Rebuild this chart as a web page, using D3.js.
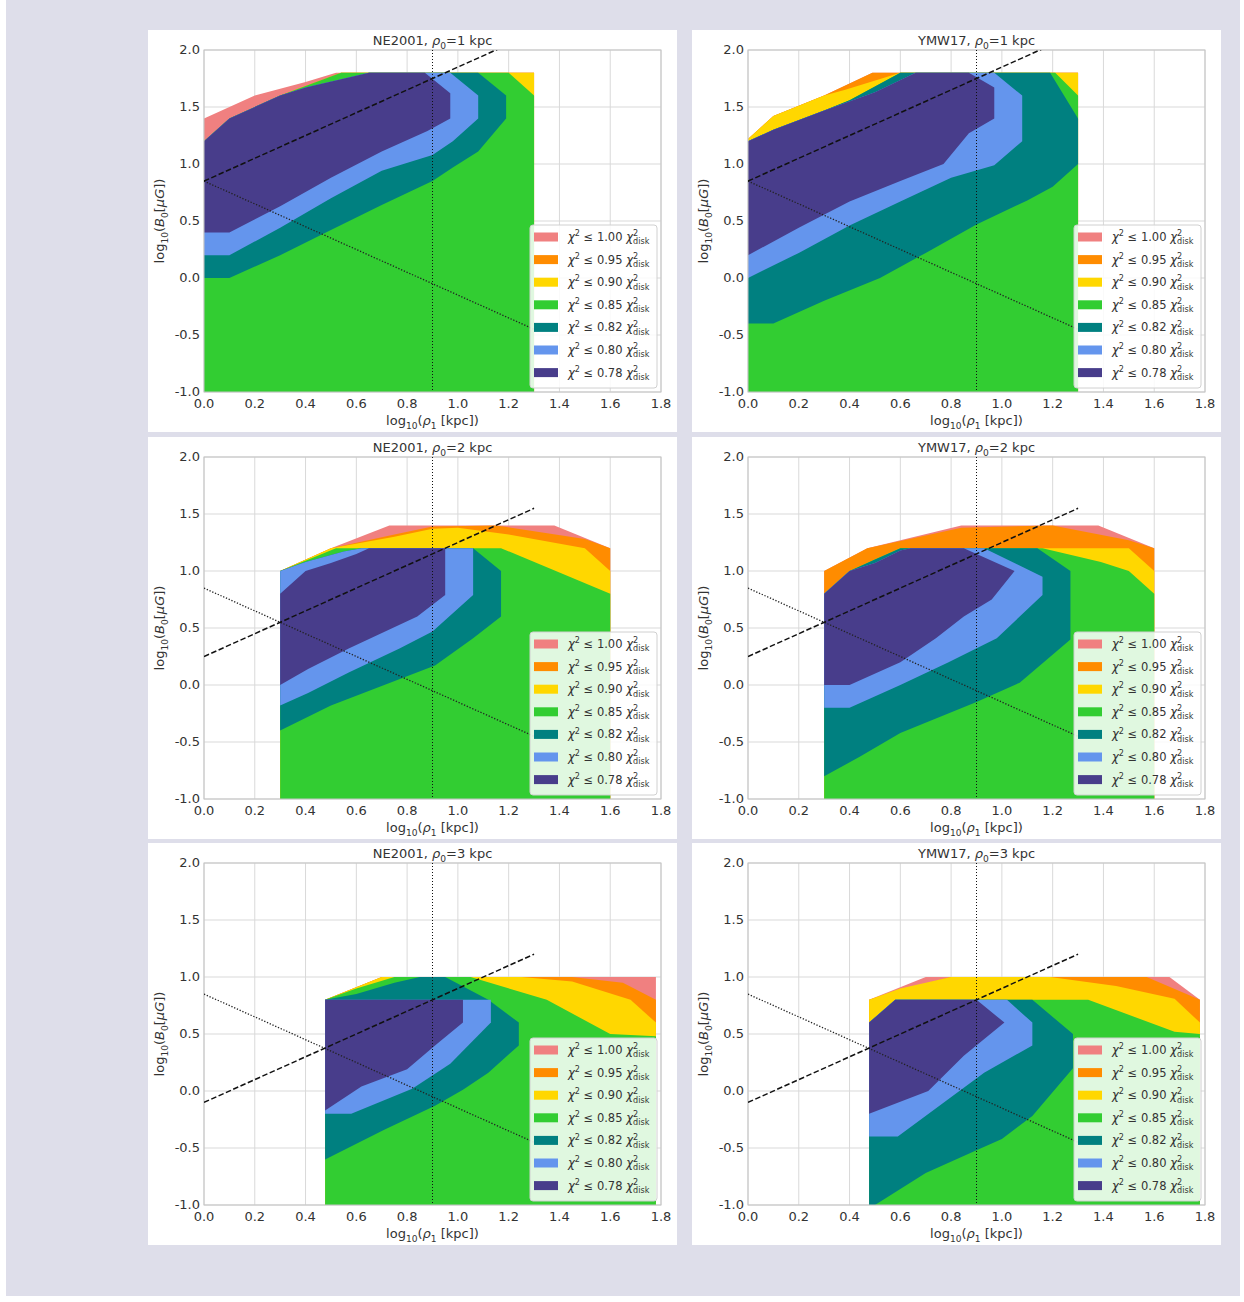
<!DOCTYPE html>
<meta charset="utf-8">
<script src="https://d3js.org/d3.v7.min.js"></script>
<style>
  body { margin: 0; background: #fff; }
  text { font-family: "DejaVu Sans", sans-serif; fill: #333; }
</style>
<svg id="chart" width="1244" height="1302"></svg>
<script>
// contour levels (chi^2 <= level * chi^2_disk) and their fill colours
var levels = ["1.00", "0.95", "0.90", "0.85", "0.82", "0.80", "0.78"];
var levelColors = ["#f08080", "#ff8c00", "#ffd700", "#32cd32", "#008080", "#6495ed", "#483d8b"];

var xTicks = [0, 0.2, 0.4, 0.6, 0.8, 1.0, 1.2, 1.4, 1.6, 1.8];
var yTicks = [-1, -0.5, 0, 0.5, 1.0, 1.5, 2.0];

var models = ["NE2001", "YMW17"];
var rho0 = [1, 2, 3];

// reference lines
var refX = 0.9;
var dottedLine = [[0, 0.85], [1.3, -0.45]];
var dashedLines = [
  [[0, 0.85], [1.3, 2.15]],
  [[0, 0.25], [1.3, 1.55]],
  [[0, -0.1], [1.3, 1.2]]
];

// region polygons [log10 rho1, log10 B0], one per level, outermost first
var ne1 = [
  [[0,-1],[0,1.4],[0.1,1.5],[0.2,1.6],[0.4,1.72],[0.52,1.8],[1.3,1.8],[1.3,-1]],
  [[0,-1],[0,1.2],[0.1,1.4],[0.3,1.6],[0.54,1.8],[1.3,1.8],[1.3,-1]],
  [[0,-1],[0,1.2],[0.1,1.4],[0.3,1.6],[0.54,1.8],[1.3,1.8],[1.3,-1]],
  [[0,-1],[0,1.2],[0.1,1.4],[0.3,1.6],[0.54,1.8],[1.2,1.8],[1.3,1.6],[1.3,-1]],
  [[0,0],[0,1.2],[0.1,1.4],[0.3,1.6],[0.4,1.67],[0.65,1.8],[1.08,1.8],[1.19,1.6],[1.19,1.4],[1.08,1.11],[0.98,0.97],[0.9,0.85],[0.7,0.64],[0.5,0.42],[0.3,0.2],[0.1,0]],
  [[0,0.2],[0,1.2],[0.1,1.4],[0.3,1.6],[0.4,1.67],[0.65,1.8],[0.97,1.8],[1.08,1.6],[1.08,1.4],[0.98,1.2],[0.9,1.08],[0.7,0.94],[0.5,0.7],[0.3,0.44],[0.1,0.2]],
  [[0,0.4],[0,1.2],[0.1,1.4],[0.3,1.6],[0.4,1.67],[0.65,1.8],[0.87,1.8],[0.97,1.62],[0.97,1.4],[0.88,1.29],[0.7,1.11],[0.5,0.88],[0.3,0.63],[0.1,0.4]]
];
var ymw1 = [
  [[0,-1],[0,1.22],[0.1,1.42],[0.3,1.6],[0.49,1.8],[1.3,1.8],[1.3,-1]],
  [[0,-1],[0,1.22],[0.1,1.42],[0.3,1.6],[0.49,1.8],[1.3,1.8],[1.3,-1]],
  [[0,-1],[0,1.22],[0.1,1.42],[0.3,1.6],[0.38,1.65],[0.6,1.8],[1.3,1.8],[1.3,-1]],
  [[0,-1],[0,1.2],[0.1,1.3],[0.3,1.47],[0.4,1.56],[0.6,1.8],[1.21,1.8],[1.3,1.6],[1.3,-1]],
  [[0,-0.4],[0,1.2],[0.1,1.3],[0.3,1.47],[0.4,1.56],[0.6,1.8],[1.19,1.8],[1.3,1.4],[1.3,1.0],[1.2,0.8],[1.1,0.68],[0.9,0.47],[0.7,0.22],[0.52,0],[0.3,-0.2],[0.1,-0.4]],
  [[0,0],[0,1.2],[0.1,1.3],[0.3,1.47],[0.5,1.63],[0.66,1.8],[0.97,1.8],[1.08,1.6],[1.08,1.2],[0.97,0.99],[0.8,0.88],[0.6,0.67],[0.4,0.46],[0.2,0.22]],
  [[0,0.2],[0,1.2],[0.1,1.3],[0.3,1.47],[0.5,1.63],[0.66,1.8],[0.87,1.8],[0.97,1.67],[0.97,1.4],[0.87,1.27],[0.77,1.0],[0.6,0.85],[0.4,0.67],[0.2,0.44]]
];
var ne2 = [
  [[0.3,-1],[0.3,1.0],[0.5,1.2],[0.73,1.4],[1.38,1.4],[1.6,1.2],[1.6,-1]],
  [[0.3,-1],[0.3,1.0],[0.5,1.2],[0.75,1.32],[0.9,1.39],[1.15,1.4],[1.5,1.28],[1.6,1.2],[1.6,-1]],
  [[0.3,-1],[0.3,1.0],[0.5,1.2],[0.75,1.3],[0.9,1.37],[1.0,1.38],[1.2,1.32],[1.5,1.2],[1.6,1.0],[1.6,-1]],
  [[0.3,-1],[0.3,1.0],[0.52,1.2],[1.17,1.2],[1.6,0.8],[1.6,-1]],
  [[0.3,-0.4],[0.3,1.0],[0.4,1.08],[0.55,1.17],[0.62,1.2],[1.06,1.2],[1.17,1.0],[1.17,0.6],[1.06,0.41],[0.91,0.17],[0.71,0],[0.5,-0.18]],
  [[0.3,-0.18],[0.3,1.0],[0.4,1.08],[0.55,1.17],[0.62,1.2],[1.06,1.2],[1.06,0.79],[0.9,0.47],[0.77,0.32],[0.57,0.11],[0.41,-0.07]],
  [[0.3,0],[0.3,0.8],[0.4,1.0],[0.5,1.07],[0.6,1.15],[0.65,1.2],[0.95,1.2],[0.95,0.79],[0.84,0.6],[0.57,0.32],[0.41,0.14]]
];
var ymw2 = [
  [[0.3,-1],[0.3,1.0],[0.47,1.2],[0.84,1.4],[1.38,1.4],[1.6,1.2],[1.6,-1]],
  [[0.3,-1],[0.3,1.0],[0.47,1.2],[0.84,1.38],[1.2,1.4],[1.5,1.27],[1.6,1.2],[1.6,-1]],
  [[0.3,-1],[0.3,0.8],[0.4,1.0],[0.5,1.1],[0.6,1.2],[1.5,1.2],[1.6,1.0],[1.6,-1]],
  [[0.3,-1],[0.3,0.8],[0.4,1.0],[0.5,1.1],[0.6,1.2],[1.16,1.2],[1.39,1.08],[1.5,1.0],[1.6,0.8],[1.6,-1]],
  [[0.3,-0.8],[0.3,0.8],[0.4,1.0],[0.5,1.1],[0.6,1.2],[1.14,1.2],[1.27,1.0],[1.27,0.4],[1.07,0.02],[0.9,-0.15],[0.6,-0.42],[0.44,-0.63]],
  [[0.3,-0.2],[0.3,0.8],[0.4,1.0],[0.5,1.07],[0.6,1.18],[0.64,1.2],[0.93,1.2],[1.16,0.95],[1.16,0.79],[0.98,0.41],[0.79,0.2],[0.6,0.0],[0.4,-0.2]],
  [[0.3,0],[0.3,0.8],[0.4,1.0],[0.5,1.07],[0.6,1.18],[0.64,1.2],[0.85,1.2],[1.05,1.0],[0.96,0.75],[0.85,0.6],[0.74,0.41],[0.6,0.2],[0.4,0]]
];
var ne3 = [
  [[0.477,-1],[0.477,0.8],[0.7,1.0],[1.78,1.0],[1.78,-1]],
  [[0.477,-1],[0.477,0.8],[0.7,1.0],[1.45,1.0],[1.65,0.95],[1.78,0.8],[1.78,-1]],
  [[0.477,-1],[0.477,0.8],[0.7,1.0],[1.25,1.0],[1.45,0.96],[1.68,0.8],[1.78,0.6],[1.78,-1]],
  [[0.477,-1],[0.477,0.8],[0.6,0.9],[0.75,1.0],[1.05,1.0],[1.35,0.8],[1.6,0.5],[1.78,0.48],[1.78,-1]],
  [[0.477,-0.6],[0.477,0.8],[0.6,0.85],[0.75,0.95],[0.85,1.0],[0.95,1.0],[1.12,0.8],[1.24,0.6],[1.24,0.4],[1.12,0.16],[1.02,0.01],[0.91,-0.13],[0.71,-0.34]],
  [[0.477,-0.2],[0.477,0.8],[1.13,0.8],[1.13,0.6],[0.97,0.24],[0.82,0.02],[0.58,-0.2]],
  [[0.477,-0.17],[0.477,0.8],[1.02,0.8],[1.02,0.6],[0.91,0.4],[0.8,0.19],[0.62,0.04]]
];
var ymw3 = [
  [[0.477,-1],[0.477,0.8],[0.7,1.0],[1.66,1.0],[1.78,0.8],[1.78,-1]],
  [[0.477,-1],[0.477,0.8],[0.62,0.9],[0.8,1.0],[1.57,1.0],[1.78,0.8],[1.78,-1]],
  [[0.477,-1],[0.477,0.8],[0.6,0.9],[0.8,1.0],[1.19,1.0],[1.45,0.92],[1.68,0.81],[1.78,0.6],[1.78,-1]],
  [[0.477,-1],[0.477,0.6],[0.58,0.8],[1.34,0.8],[1.68,0.52],[1.78,0.5],[1.78,-1]],
  [[0.5,-1],[0.477,-1],[0.477,0.6],[0.58,0.8],[1.12,0.8],[1.28,0.5],[1.28,0.2],[1.12,-0.22],[1.0,-0.42],[0.9,-0.52],[0.7,-0.72]],
  [[0.477,-0.4],[0.477,0.6],[0.58,0.8],[1.02,0.8],[1.12,0.6],[1.12,0.4],[0.93,0.16],[0.79,-0.07],[0.59,-0.4]],
  [[0.477,-0.2],[0.477,0.6],[0.58,0.8],[0.9,0.8],[1.01,0.6],[0.85,0.31],[0.71,0.0]]
];
var regions = [[ne1, ymw1], [ne2, ymw2], [ne3, ymw3]];

// layout
var svg = d3.select("#chart");
var colX = [148, 692], rowY = [30, 437, 843];
var panelW = 529, panelH = 402;
var axL = 56, axT = 20, axW = 457, axH = 342;

svg.append("rect").attr("x", 6).attr("y", 0).attr("width", 1234).attr("height", 1296)
  .attr("fill", "#dedeea");

// writes a mathtext-like label made of tspans
function mathText(sel, parts, size) {
  var shift = 0;
  parts.forEach(function (p) {
    var target = p.s === "sub" ? size * 0.3 : p.s === "sup" ? -size * 0.42 : 0;
    var t = sel.append("tspan").attr("dy", target - shift).text(p.t);
    if (p.s) t.style("font-size", (size * 0.7) + "px");
    if (p.i) t.style("font-style", "italic");
    if (p.dx) t.attr("dx", p.dx);
    shift = target;
  });
}

// matplotlib style tick text, plain hyphen for negatives
function tickFmt(d) { return d.toFixed(1); }

var line = d3.line();

for (var r = 0; r < 3; r++) {
  for (var c = 0; c < 2; c++) {
    var g = svg.append("g").attr("transform", "translate(" + colX[c] + "," + rowY[r] + ")");
    g.append("rect").attr("width", panelW).attr("height", panelH).attr("fill", "#fff");

    var x = d3.scaleLinear().domain([0, 1.8]).range([axL, axL + axW]);
    var y = d3.scaleLinear().domain([-1, 2]).range([axT + axH, axT]);
    line.x(function (d) { return x(d[0]); }).y(function (d) { return y(d[1]); });

    var clipId = "clip" + r + c;
    g.append("clipPath").attr("id", clipId).append("rect")
      .attr("x", axL).attr("y", axT).attr("width", axW).attr("height", axH);

    // grid
    g.append("g").selectAll("line").data(xTicks).join("line")
      .attr("x1", function (d) { return x(d); }).attr("x2", function (d) { return x(d); })
      .attr("y1", axT).attr("y2", axT + axH)
      .attr("stroke", "#d9d9d9").attr("stroke-width", 1);
    g.append("g").selectAll("line").data(yTicks).join("line")
      .attr("y1", function (d) { return y(d); }).attr("y2", function (d) { return y(d); })
      .attr("x1", axL).attr("x2", axL + axW)
      .attr("stroke", "#d9d9d9").attr("stroke-width", 1);

    // filled regions
    g.append("g").attr("clip-path", "url(#" + clipId + ")")
      .selectAll("path").data(regions[r][c]).join("path")
      .attr("d", function (d) { return line(d) + "Z"; })
      .attr("fill", function (d, i) { return levelColors[i]; });

    // frame
    g.append("rect").attr("x", axL).attr("y", axT).attr("width", axW).attr("height", axH)
      .attr("fill", "none").attr("stroke", "#c4c4c4").attr("stroke-width", 1);

    // reference lines
    var lg = g.append("g").attr("clip-path", "url(#" + clipId + ")");
    lg.append("line")
      .attr("x1", x(refX)).attr("x2", x(refX)).attr("y1", axT).attr("y2", axT + axH)
      .attr("stroke", "#111").attr("stroke-width", 1).attr("stroke-dasharray", "1,2");
    lg.append("path").attr("d", line(dottedLine))
      .attr("fill", "none").attr("stroke", "#222").attr("stroke-width", 1.3).attr("stroke-dasharray", "1.3,1.7");
    lg.append("path").attr("d", line(dashedLines[r]))
      .attr("fill", "none").attr("stroke", "#111").attr("stroke-width", 1.5).attr("stroke-dasharray", "5.5,2.5");

    // tick labels
    g.append("g").selectAll("text").data(xTicks).join("text")
      .attr("x", function (d) { return x(d); }).attr("y", axT + axH + 16)
      .attr("text-anchor", "middle").style("font-size", "13px")
      .text(tickFmt);
    g.append("g").selectAll("text").data(yTicks).join("text")
      .attr("x", axL - 4).attr("y", function (d) { return y(d) + 4; })
      .attr("text-anchor", "end").style("font-size", "13px")
      .text(tickFmt);

    // title
    var title = g.append("text").attr("x", axL + axW / 2).attr("y", axT - 5)
      .attr("text-anchor", "middle").style("font-size", "13px");
    mathText(title, [{ t: models[c] + ", " }, { t: "ρ", i: true }, { t: "0", s: "sub" },
      { t: "=" + rho0[r] + " kpc" }], 13);

    // axis labels
    var xl = g.append("text").attr("x", axL + axW / 2).attr("y", axT + axH + 33)
      .attr("text-anchor", "middle").style("font-size", "13px");
    mathText(xl, [{ t: "log" }, { t: "10", s: "sub" }, { t: "(" }, { t: "ρ", i: true },
      { t: "1", s: "sub" }, { t: " [kpc])" }], 13);
    var yl = g.append("text")
      .attr("transform", "translate(" + (axL - 40) + "," + (axT + axH / 2) + ") rotate(-90)")
      .attr("text-anchor", "middle").style("font-size", "13px");
    mathText(yl, [{ t: "log" }, { t: "10", s: "sub" }, { t: "(" }, { t: "B", i: true },
      { t: "0", s: "sub" }, { t: "[" }, { t: "μG", i: true }, { t: "])" }], 13);

    // legend
    var lw = 127, lh = 163;
    var lx = axL + axW - lw - 4, ly = axT + axH - lh - 4;
    var leg = g.append("g").attr("transform", "translate(" + lx + "," + ly + ")");
    leg.append("rect").attr("width", lw).attr("height", lh).attr("rx", 3)
      .attr("fill", "#fff").attr("fill-opacity", 0.85).attr("stroke", "#d0d0d0");
    levels.forEach(function (lv, i) {
      var cy = 12 + i * 22.6;
      leg.append("rect").attr("x", 4).attr("y", cy - 4.5).attr("width", 24).attr("height", 9)
        .attr("fill", levelColors[i]);
      var t = leg.append("text").attr("x", 38).attr("y", cy + 4).style("font-size", "11.5px");
      mathText(t, [{ t: "χ", i: true }, { t: "2", s: "sup" }, { t: " ≤ " + lv + " " },
        { t: "χ", i: true }, { t: "2", s: "sup" }, { t: "disk", s: "sub", dx: -5 }], 11.5);
    });
  }
}
</script>
